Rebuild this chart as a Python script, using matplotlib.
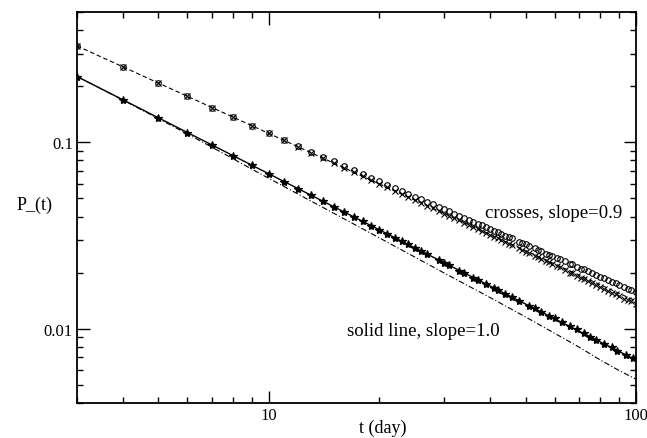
import matplotlib
matplotlib.use("Agg")
import matplotlib.pyplot as plt
from matplotlib.ticker import FixedLocator, FixedFormatter, LogLocator, NullFormatter

plt.rcParams['font.family'] = ['Liberation Serif', 'DejaVu Serif']

# sampling days of the open circles and the crosses
oc_days = list(range(3, 47)) + [48, 49, 50, 51, 53, 54, 55, 57, 58, 59, 61, 62,
                                64, 66, 67, 69, 71, 72, 74, 76, 78, 80, 82, 84,
                                86, 88, 90, 93, 95, 97, 100]

# open circles
circles = [0.330, 0.2547, 0.2084, 0.1768, 0.1539, 0.1365, 0.1228, 0.1117,
           0.1029, 0.0957, 0.0893, 0.0839, 0.0791, 0.0748, 0.0711, 0.0677,
           0.0646, 0.0618, 0.0594, 0.0570, 0.0550, 0.0530, 0.0512, 0.0495,
           0.0479, 0.0465, 0.0450, 0.0437, 0.0426, 0.0414, 0.0403, 0.0393,
           0.0384, 0.0375, 0.0366, 0.0358, 0.0350, 0.0343, 0.0336, 0.0329,
           0.0322, 0.0315, 0.0309, 0.0305,
           0.0293, 0.0288, 0.0283, 0.0279, 0.0270, 0.0266, 0.0261, 0.0253,
           0.0250, 0.0246, 0.0239, 0.0236, 0.0230, 0.0223, 0.0221, 0.0215,
           0.0210, 0.0208, 0.0203, 0.0198, 0.0194, 0.0190, 0.0186, 0.0182,
           0.0178, 0.0175, 0.0172, 0.0167, 0.0164, 0.0162, 0.0157]

# crosses
crosses = [0.330, 0.2547, 0.2084, 0.1768, 0.1539, 0.1365, 0.1228, 0.1117,
           0.1025, 0.0948, 0.0882, 0.0825, 0.0775, 0.0732, 0.0693, 0.0658,
           0.0627, 0.0598, 0.0573, 0.0549, 0.0528, 0.0508, 0.0490, 0.0473,
           0.0457, 0.0442, 0.0428, 0.0415, 0.0403, 0.0392, 0.0381, 0.0371,
           0.0362, 0.0353, 0.0344, 0.0336, 0.0328, 0.0319, 0.0312, 0.0305,
           0.0298, 0.0292, 0.0286, 0.0281,
           0.0270, 0.0264, 0.0259, 0.0255, 0.0246, 0.0242, 0.0238, 0.0230,
           0.0227, 0.0223, 0.0216, 0.0213, 0.0206, 0.0200, 0.0198, 0.0192,
           0.0187, 0.0185, 0.0180, 0.0176, 0.0172, 0.0168, 0.0164, 0.0160,
           0.0156, 0.0153, 0.0150, 0.0145, 0.0142, 0.0140, 0.0136]

# sampling days of the filled stars
st_days = list(range(3, 26)) + [26, 27, 29, 30, 31, 33, 34, 36, 37, 39, 41, 42,
                                44, 46, 48, 51, 53, 55, 58, 60, 63, 66, 69, 72,
                                75, 78, 82, 86, 89, 94, 98]

# filled stars
stars = [0.226, 0.1695, 0.1356, 0.1130, 0.0969, 0.0848, 0.0753, 0.0678,
         0.0616, 0.0565, 0.0522, 0.0484, 0.0452, 0.0424, 0.0399, 0.0377,
         0.0357, 0.0339, 0.0323, 0.0308, 0.0295, 0.0283, 0.0271,
         0.0261, 0.0251, 0.0235, 0.0226, 0.0219, 0.0205, 0.0200, 0.0188,
         0.0183, 0.0174, 0.0166, 0.0161, 0.0154, 0.0148, 0.0141, 0.0133,
         0.0129, 0.0123, 0.0117, 0.0114, 0.0108, 0.0103, 0.00990, 0.00945,
         0.00904, 0.00872, 0.00827, 0.00792, 0.00762, 0.00721, 0.00692]

# dash-dot curve
dd_days = [3, 4, 5, 6, 7, 8, 9, 10, 12, 15, 20, 25, 30, 40, 50, 60, 70, 80, 90, 100]
dd_vals = [0.226, 0.169, 0.1342, 0.111, 0.0942, 0.0816, 0.0717, 0.0641, 0.0528,
           0.0417, 0.0307, 0.0242, 0.0199, 0.0147, 0.01156, 0.00944, 0.00795,
           0.00678, 0.00595, 0.00535]

# power-law fits
fit_days = [3, 100]
fit_09 = [0.330, 0.01406]
fit_10 = [0.226, 0.00678]

fig = plt.figure(figsize=(6.47, 4.39), dpi=100)
ax = fig.add_axes([77 / 647, 35.3 / 439, 559 / 647, 390.4 / 439])

ax.plot(fit_days, fit_09, color='black', lw=0.8, ls=(0, (4, 2.5)))
ax.plot(fit_days, fit_10, color='black', lw=1.0, ls='-')
ax.plot(dd_days, dd_vals, color='black', lw=0.8, ls=(0, (5, 2, 1, 2)))

ax.plot(oc_days, crosses, ls='none', marker='x', ms=3.8, mew=0.8, color='black')
ax.plot(oc_days, circles, ls='none', marker='o', ms=4.0, mew=0.8,
        mfc='none', mec='black')
ax.plot(st_days, stars, ls='none', marker='*', ms=6, mew=0.9, color='black')

ax.set_xscale('log')
ax.set_yscale('log')
ax.set_xlim(3, 100)
ax.set_ylim(0.004, 0.5)

ax.xaxis.set_major_locator(FixedLocator([10, 100]))
ax.xaxis.set_major_formatter(FixedFormatter(['10', '100']))
ax.xaxis.set_minor_locator(LogLocator(base=10, subs=range(2, 10)))
ax.xaxis.set_minor_formatter(NullFormatter())
ax.yaxis.set_major_locator(FixedLocator([0.01, 0.1]))
ax.yaxis.set_major_formatter(FixedFormatter(['0.01', '0.1']))
ax.yaxis.set_minor_locator(LogLocator(base=10, subs=range(2, 10)))
ax.yaxis.set_minor_formatter(NullFormatter())

ax.tick_params(which='both', direction='in', top=True, right=True,
               labelsize=12, width=1.0, pad=3)
ax.tick_params(which='major', length=9)
ax.tick_params(which='minor', length=4.5)
for sp in ax.spines.values():
    sp.set_linewidth(1.3)

ax.set_xlabel('t (day)', fontsize=13)
ax.xaxis.set_label_coords((383 - 77) / 559, -0.042)
fig.text(35 / 647, 1 - 205 / 439, 'P_(t)', fontsize=13, ha='center', va='center')

fig.text(485 / 647, 1 - 213 / 439, 'crosses, slope=0.9', fontsize=13.5,
         ha='left', va='center')
fig.text(500 / 647, 1 - 332 / 439, 'solid line, slope=1.0', fontsize=13.5,
         ha='right', va='center')

fig.savefig('out.png', dpi=100)
